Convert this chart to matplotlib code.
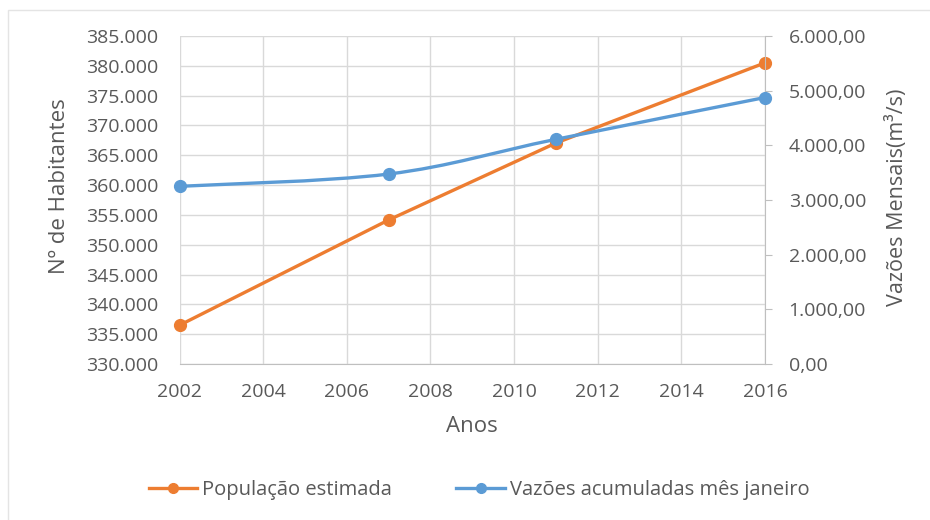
import matplotlib
matplotlib.use("Agg")
import matplotlib.pyplot as plt
from matplotlib.path import Path
from matplotlib.patches import PathPatch, Rectangle
from matplotlib.ticker import FuncFormatter, MultipleLocator
from matplotlib.lines import Line2D

plt.rcParams['font.family'] = ['Open Sans', 'DejaVu Sans']

years = [2002, 2007, 2011, 2016]
populacao = [336500, 354150, 367050, 380500]
vazoes = [3250.0, 3475.0, 4110.0, 4875.0]

x_ticks = [2002, 2004, 2006, 2008, 2010, 2012, 2014, 2016]

ORANGE = "#ED7D31"
BLUE = "#5B9BD5"
TXT = "#595959"
GRID = "#d9d9d9"


def br_int(v, _pos=None):
    return f"{int(round(v)):,}".replace(",", ".")


def br_dec(v, _pos=None):
    s = f"{v:,.2f}"
    return s.replace(",", "X").replace(".", ",").replace("X", ".")


def smooth_path(xs, ys):
    # Catmull-Rom style cubic Bezier segments through the points
    n = len(xs)
    verts = [(xs[0], ys[0])]
    codes = [Path.MOVETO]
    for i in range(n - 1):
        x0, y0 = (xs[i - 1], ys[i - 1]) if i > 0 else (xs[i], ys[i])
        x1, y1 = xs[i], ys[i]
        x2, y2 = xs[i + 1], ys[i + 1]
        x3, y3 = (xs[i + 2], ys[i + 2]) if i + 2 < n else (x2, y2)
        c1 = (x1 + (x2 - x0) / 6.0, y1 + (y2 - y0) / 6.0)
        c2 = (x2 - (x3 - x1) / 6.0, y2 - (y3 - y1) / 6.0)
        verts += [c1, c2, (x2, y2)]
        codes += [Path.CURVE4] * 3
    return Path(verts, codes)


fig = plt.figure(figsize=(9.3, 5.2), dpi=100)
fig.patch.set_facecolor("white")
fig.patches.append(Rectangle((0.009, -0.05), 1.05, 1.03, transform=fig.transFigure,
                             fill=False, edgecolor="#e4e4e4", lw=1.0))

W, H = 930.0, 520.0
x0, x1, y0, y1 = 179.5, 765.0, 36.0, 364.0
ax = fig.add_axes([x0 / W, 1 - y1 / H, (x1 - x0) / W, (y1 - y0) / H])
ax2 = ax.twinx()

ax.set_xlim(2002, 2016)
ax.set_ylim(330000, 385000)
ax2.set_ylim(0, 6000)

ax.set_xticks(x_ticks)
ax.yaxis.set_major_locator(MultipleLocator(5000))
ax.yaxis.set_major_formatter(FuncFormatter(br_int))
ax2.yaxis.set_major_locator(MultipleLocator(1000))
ax2.yaxis.set_major_formatter(FuncFormatter(br_dec))

ax.grid(True, color=GRID, lw=1.0)
ax.set_axisbelow(True)

for a in (ax, ax2):
    for side in ("top", "left", "right", "bottom"):
        a.spines[side].set_visible(False)
ax.spines["bottom"].set_visible(True)
ax.spines["bottom"].set_color("#bfbfbf")
ax2.spines["right"].set_visible(True)
ax2.spines["right"].set_color("#bfbfbf")

ax.tick_params(axis="x", length=0, pad=14, labelsize=14, labelcolor=TXT)
ax.tick_params(axis="y", length=0, pad=15, labelsize=14, labelcolor=TXT)
ax2.tick_params(axis="y", length=5, color="#bfbfbf", pad=12, labelsize=14, labelcolor=TXT)

ax.set_xlabel("Anos", fontsize=16, color=TXT)
ax.xaxis.set_label_coords((472 - x0) / (x1 - x0), (y1 - 427) / (y1 - y0))
ax.xaxis.label.set_va("center")
ax.set_ylabel("Nº de Habitantes", fontsize=16, color=TXT)
ax.yaxis.set_label_coords((59 - x0) / (x1 - x0), (y1 - 186) / (y1 - y0))
ax.yaxis.label.set_va("center")
ax2.set_ylabel("Vazões Mensais(m³/s)", fontsize=15.5, color=TXT)
ax2.yaxis.set_label_coords((897 - x0) / (x1 - x0), (y1 - 197) / (y1 - y0))
ax2.yaxis.label.set_va("center")

ax.plot(years, populacao, color=ORANGE, lw=2.4, marker="o", ms=8.5,
        zorder=3, clip_on=False, solid_capstyle="round")

ax2.add_patch(PathPatch(smooth_path(years, vazoes), facecolor="none",
                        edgecolor=BLUE, lw=2.4, zorder=3, clip_on=False))
ax2.plot(years, vazoes, linestyle="none", color=BLUE, marker="o", ms=8.5,
         zorder=4, clip_on=False)

handles = [
    Line2D([], [], color=ORANGE, lw=2.4, marker="o", ms=7),
    Line2D([], [], color=BLUE, lw=2.4, marker="o", ms=7),
]
fig.legend(handles, ["População estimada", "Vazões acumuladas mês janeiro"],
           loc="center", bbox_to_anchor=(479 / W, 1 - 490 / H), ncol=2, frameon=False,
           fontsize=14.5, labelcolor=TXT, handlelength=2.4, handletextpad=0.25,
           columnspacing=3.2)

fig.savefig("out.png", dpi=100, facecolor="white")
